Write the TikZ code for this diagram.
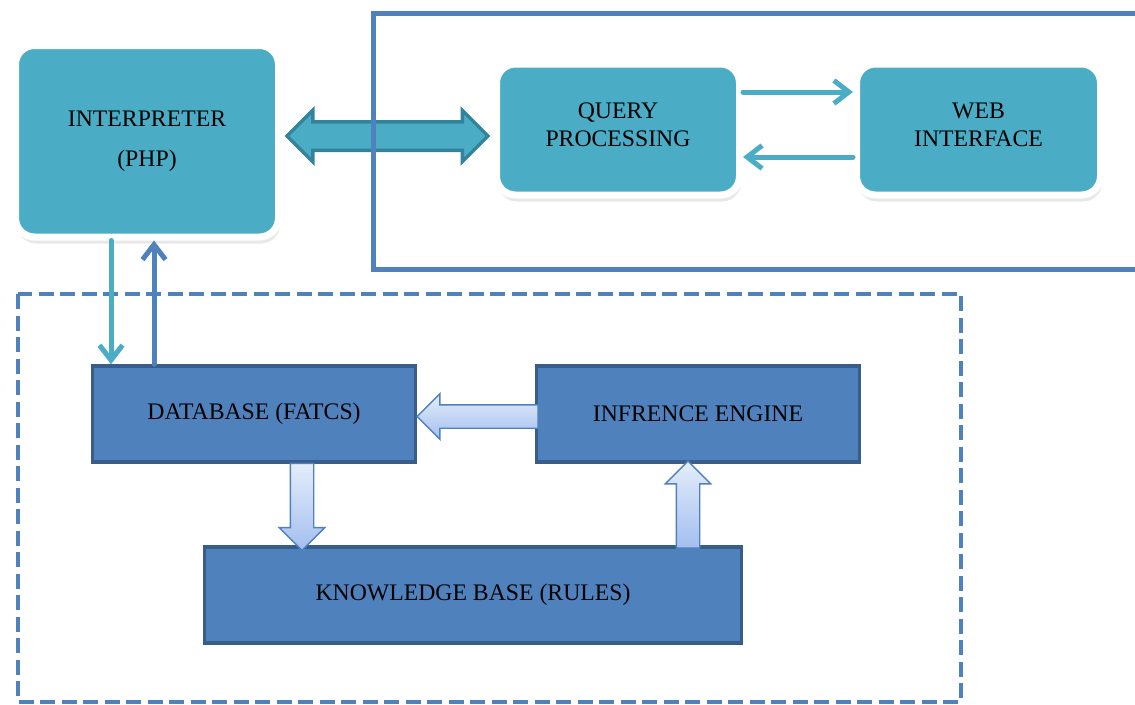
\documentclass[tikz,border=0pt]{standalone}
\usepackage{fontspec}
\setmainfont{Liberation Serif}
\usetikzlibrary{shapes.arrows,arrows.meta,shadows}
\definecolor{tealbox}{HTML}{4BACC6}
\definecolor{tealdark}{HTML}{31849B}
\definecolor{bluebox}{HTML}{4F81BD}
\definecolor{bluedark}{HTML}{385D8A}
\definecolor{arrowtop}{HTML}{E4EDFB}
\definecolor{arrowbot}{HTML}{A3BFEF}
\tikzset{
  boxfont/.style={font=\fontsize{13.5}{16}\selectfont},
  roundbox/.style={boxfont, align=center, rounded corners=0.38cm, fill=tealbox, draw=white,
    line width=0.14cm, drop shadow={opacity=0.18, shadow xshift=0.03cm, shadow yshift=-0.13cm}},
  squarebox/.style={boxfont, fill=bluebox, draw=bluedark, line width=0.07cm, minimum height=1.92cm},
  blockarrow/.style={single arrow, single arrow head extend=0.22cm, minimum width=0.88cm,
    inner sep=0.22cm, top color=arrowtop, bottom color=arrowbot, draw=bluebox, line width=0.8pt},
  thinarrow/.style={line width=0.1cm, -{Straight Barb[length=0.3cm, width=0.46cm]}, line cap=round}
}

\begin{document}
\begin{tikzpicture}
  \useasboundingbox (0,0) rectangle (22.7,-14.08);

  % lower group
  \draw[bluebox, line width=0.08cm, dash pattern=on 0.3cm off 0.13cm] (0.36,-5.88) rectangle (19.22,-14.04);

  \node[roundbox, minimum width=5.26cm, minimum height=3.83cm] (interp) at (2.94,-2.825) {INTERPRETER\\[7pt](PHP)};
  \node[roundbox, minimum width=4.86cm, minimum height=2.62cm] (query) at (12.36,-2.59) {QUERY\\PROCESSING\\[-10.4pt]\mbox{}};
  \node[roundbox, minimum width=4.88cm, minimum height=2.62cm] (web) at (19.57,-2.59) {WEB\\INTERFACE\\[-10.4pt]\mbox{}};

  \node[squarebox, minimum width=6.46cm] (db) at (5.08,-8.28) {DATABASE (FATCS)};
  \node[squarebox, minimum width=6.46cm] (inf) at (13.96,-8.28) {INFRENCE ENGINE};
  \node[squarebox, minimum width=10.74cm] (kb) at (9.46,-11.9) {KNOWLEDGE BASE (RULES)};

  % block arrows
  \node[double arrow, double arrow head extend=0.23cm, minimum width=0.96cm, minimum height=4.02cm,
    inner sep=0.25cm, fill=tealbox, draw=tealdark, line width=0.07cm] (link) at (7.75,-2.72) {};
  \node[blockarrow, shape border rotate=180, minimum height=2.42cm] (toDb) at (9.67,-8.33) {};
  \node[blockarrow, shape border rotate=270, minimum height=1.74cm] (toKb) at (6.04,-10.02) {};
  \node[blockarrow, shape border rotate=90, minimum height=1.74cm] (toInf) at (13.76,-10.21) {};

  % frame round the web side
  \draw[bluebox, line width=0.1cm] (23.2,-0.26) -- (7.46,-0.26) -- (7.46,-5.38) -- (23.2,-5.38);

  % thin arrows
  \draw[thinarrow, tealbox] ([xshift=-0.72cm]interp.south) -- ([xshift=-0.72cm]interp.south |- db.north);
  \draw[thinarrow, bluebox] ([xshift=0.14cm]interp.south |- db.north) -- ([xshift=0.14cm]interp.south);
  \draw[thinarrow, tealbox] ([yshift=0.75cm]query.east) -- ([yshift=0.75cm]query.east -| web.west);
  \draw[thinarrow, tealbox] ([yshift=-0.55cm]web.west) -- ([yshift=-0.55cm]web.west -| query.east);
\end{tikzpicture}
\end{document}
